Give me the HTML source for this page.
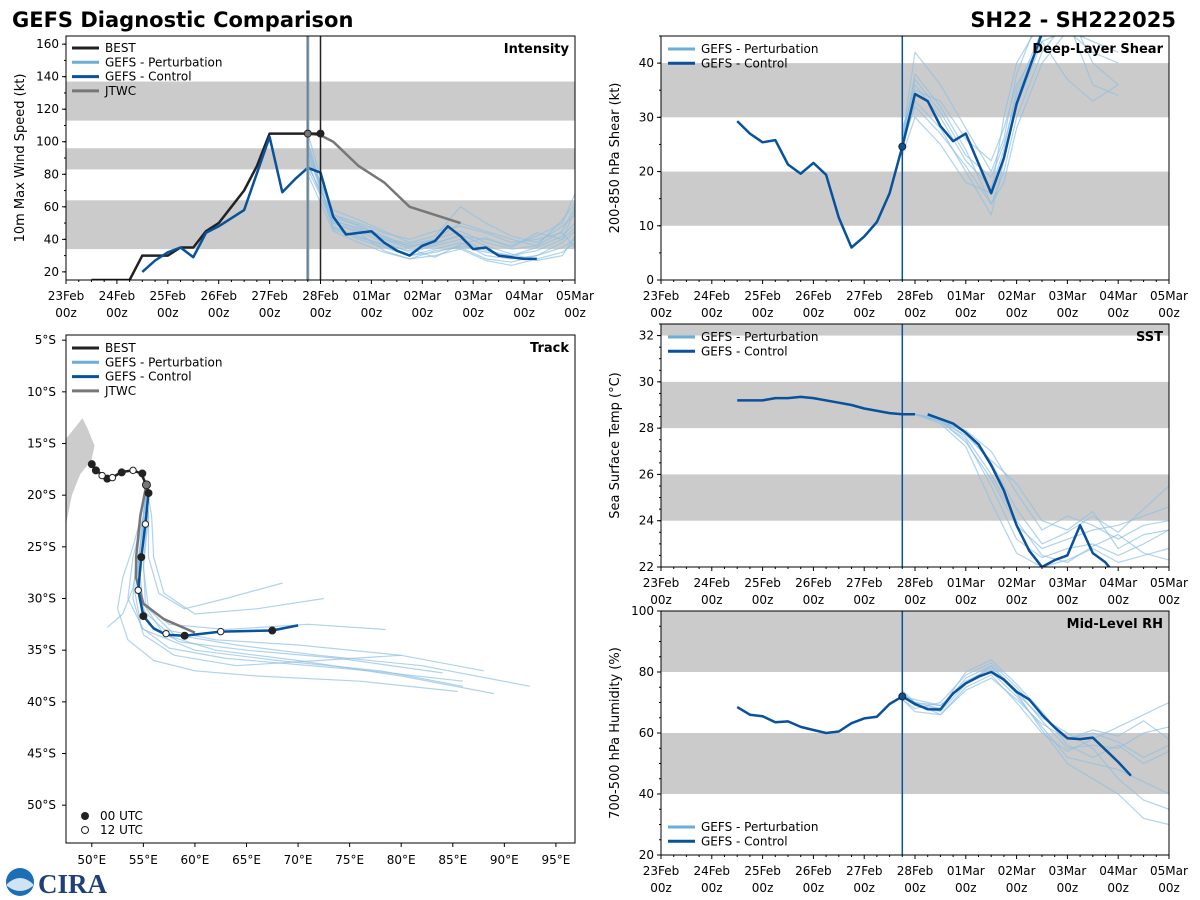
<!DOCTYPE html>
<html><head><meta charset="utf-8"><style>
body{margin:0;background:#fff;}
svg{display:block;font-family:"DejaVu Sans","Liberation Sans",sans-serif;}
</style></head><body>
<svg id="s" width="1200" height="900">
<text x="12" y="27" font-size="21" font-weight="bold">GEFS Diagnostic Comparison</text>
<text x="1176" y="27" font-size="21" font-weight="bold" text-anchor="end">SH22 - SH222025</text>
<g><circle cx="20" cy="882" r="14" fill="#1a6fb5"/><path d="M7,884 Q20,872 33,884 L33,886 Q20,896 7,886Z" fill="#fff" opacity="0.8"/><text x="38" y="893" font-size="27" font-weight="bold" fill="#1f3f7a" font-family="Liberation Serif,serif">CIRA</text></g>
</svg>
<script>
// ---------- DATA ----------
const dateLabels=["23Feb","24Feb","25Feb","26Feb","27Feb","28Feb","01Mar","02Mar","03Mar","04Mar","05Mar"];
const intTicks=[20,40,60,80,100,120,140,160];
const shearTicks=[0,10,20,30,40];
const sstTicks=[22,24,26,28,30,32];
const rhTicks=[20,40,60,80,100];
const latTicks=[5,10,15,20,25,30,35,40,45,50];
const lonTicks=[50,55,60,65,70,75,80,85,90,95];
const bestIntT=[0.5,1.25,1.5,2,2.25,2.5,2.75,3,3.25,3.5,3.75,4,4.5,4.75,5];
const bestIntV=[15,15,30,30,35,35,45,50,60,70,85,105,105,105,105];
const ctlIntT=[1.5,1.75,2,2.25,2.5,2.75,3,3.5,4,4.25,4.5,4.75,5,5.25,5.5,6,6.25,6.5,6.75,7,7.25,7.5,7.75,8,8.25,8.5,9,9.25];
const ctlIntV=[20,27,32,35,29,44,48,58,103,69,77,84,81,54,43,45,38,33,30,36,39,48,42,34,35,30,28,28];
const jtwcIntT=[4.75,5,5.25,5.75,6.25,6.75,7.75];
const jtwcIntV=[105,104,100,85,75,60,50];
const pertIntT=[4.75,5.25,5.75,6.25,6.75,7.25,7.75,8.25,8.75,9.25,9.75,10];
const pertInt1=[95,50,45,38,32,36,40,33,30,35,42,50];
const pertInt2=[85,55,48,42,35,40,45,38,34,36,45,60];
const pertInt3=[100,48,40,35,30,34,38,30,28,30,38,45];
const pertInt4=[90,58,52,45,38,42,60,50,42,38,48,55];
const pertInt5=[80,45,38,32,28,33,35,28,26,30,35,40];
const pertInt6=[105,52,46,40,36,38,42,40,36,42,50,68];
const pertInt7=[88,47,42,36,30,32,36,32,30,33,40,47];
const pertInt8=[95,55,50,44,40,45,48,44,38,40,44,35];
const pertInt9=[92,50,44,33,28,30,34,27,24,28,32,38];
const pertInt10=[86,53,49,41,37,40,50,45,40,36,52,62];
const pertInt11=[98,46,41,37,33,37,43,36,31,27,30,42];
const pertInt12=[83,51,47,40,34,29,37,41,35,44,40,58];
const ctlShearT=[1.5,1.75,2,2.25,2.5,2.75,3,3.25,3.5,3.75,4,4.25,4.5,4.75,5,5.25,5.5,5.75,6,6.25,6.5,6.75,7,7.25,7.5,7.75];
const ctlShearV=[29.3,27,25.4,25.8,21.3,19.6,21.6,19.4,11.5,6,8,10.7,16,24.6,34.3,33,28.4,25.6,27,21.5,16,22.5,32.5,39,45.5,50];
const pertShearT=[4.75,5,5.5,6,6.5,6.75,7,7.5,8,8.5,9];
const pertShear1=[25,38,32,24,14,20,30,42,48,36,34];
const pertShear2=[27,36,30,22,17,24,35,46,50,40,36];
const pertShear3=[24,33,28,20,12,22,32,44,37,33,36];
const pertShear4=[26,42,36,28,20,26,38,50,55,50,48];
const pertShear5=[23,30,25,18,16,30,40,48,52,48,46];
const pertShear6=[28,35,33,26,22,28,36,44,46,42,40];
const pertShear7=[25,32,27,21,14,18,28,40,46,44,42];
const pertShear8=[26,37,31,23,19,25,34,45,52,47,45];
const ctlSstT=[1.5,2,2.25,2.5,2.75,3,3.5,3.75,4,4.5,4.75,5];
const ctlSstV=[29.2,29.2,29.3,29.3,29.35,29.3,29.1,29,28.85,28.65,28.6,28.6];
const ctlSst2T=[5.25,5.5,5.75,6,6.25,6.5,6.75,7,7.25,7.5,7.75,8,8.25,8.5,8.75,9];
const ctlSst2V=[28.6,28.4,28.2,27.8,27.3,26.4,25.3,23.8,22.7,22,22.3,22.5,23.8,22.6,22.2,21.5];
const pertSstT=[5,5.5,6,6.5,7,7.5,8,8.5,9,9.5,10];
const pertSst1=[28.6,28.3,27.5,25.5,23.2,22.4,22.8,23,22.5,23,23.6];
const pertSst2=[28.6,28.4,27.8,26.5,24.5,23,23.5,24.2,23.5,24.5,25.5];
const pertSst3=[28.6,28.2,27.2,24.8,22.6,22,22.3,22.8,22.2,22.5,22.8];
const pertSst4=[28.6,28.4,27.9,27,25.2,23.6,24.2,23.8,23.2,23.8,24];
const pertSst5=[28.6,28.3,27.4,25.8,23.8,22.8,23.2,23.6,23.8,24.2,24.6];
const pertSst6=[28.6,28.4,27.6,26,24,22.5,22.2,22.9,23.4,22.6,22.3];
const pertSst7=[28.6,28.3,27.7,26.6,25.6,24,23.6,24.4,22.8,23.4,23.6];
const ctlRhT=[1.5,1.75,2,2.25,2.5,2.75,3,3.25,3.5,3.75,4,4.25,4.5,4.75,5,5.25,5.5,5.75,6,6.25,6.5,6.75,7,7.25,7.5,7.75,8,8.25,8.5,8.75,9,9.25];
const ctlRhV=[68.5,66,65.5,63.5,63.8,62,61,60,60.5,63.2,64.8,65.3,69.5,72,69.5,67.8,67.7,73,76.3,78.5,80,77.5,73.5,71,66,61.8,58.3,58,58.5,54.5,50.5,46];
const pertRhT=[4.75,5,5.5,6,6.5,7,7.5,8,8.5,9,9.5,10];
const pertRh1=[72,70,68,78,82,74,64,55,56,55,60,62];
const pertRh2=[73,69,67,76,80,72,62,52,50,48,44,40];
const pertRh3=[71,68,70,79,83,75,66,58,60,57,52,56];
const pertRh4=[72,71,69,77,81,73,65,60,55,45,38,35];
const pertRh5=[74,70,66,75,79,70,60,54,58,62,66,70];
const pertRh6=[72,69,68,80,84,76,67,56,52,56,50,54];
const pertRh7=[71,67,66,74,78,71,63,58,61,59,64,58];
const pertRh8=[73,70,69,76,82,73,61,50,45,40,32,30];
const bestTrkLon=[50,50.4,51,51.5,52,52.8,53.3,54,54.8,55.1,55.3];
const bestTrkLat=[17,17.5,18.1,18.4,18.3,17.8,17.7,17.6,17.9,18.6,19];
const bestFilledLon=[50,50.4,51.5,52.9,54.9];
const bestFilledLat=[17,17.6,18.4,17.8,17.9];
const bestOpenLon=[51,52,54];
const bestOpenLat=[18.1,18.3,17.6];
const ctlTrkLon=[55.3,55.5,55.2,54.8,54.5,55,56,57.2,59,62.5,67.5,70];
const ctlTrkLat=[19,19.8,22.8,26,29.2,31.7,32.9,33.5,33.6,33.2,33.1,32.6];
const ctlFilledLon=[55.5,54.8,55,59,67.5];
const ctlFilledLat=[19.8,26,31.7,33.6,33.1];
const ctlOpenLon=[55.2,54.5,57.2,62.5];
const ctlOpenLat=[22.8,29.2,33.4,33.2];
const jtwcTrkLon=[55.3,54.7,54.3,54.3,55,57,60];
const jtwcTrkLat=[19,22,26,28,30.5,32,33.3];
const pertTrk1Lon=[55.3,55,54.5,54.8,57,62,70,80,88];const pertTrk1Lat=[19,22,27,31,33,34,34.5,35.5,37];
const pertTrk2Lon=[55.3,55.5,55,55.5,58,64,72,82,92.5];const pertTrk2Lat=[19,22,27,31,33.5,34.5,35.5,36.5,38.5];
const pertTrk3Lon=[55.3,55,54,53.5,55,60,68,78,86];const pertTrk3Lat=[19,22,26,30,33,35,36,37,38.5];
const pertTrk4Lon=[55.3,55.8,56,57,60,66,72.5];const pertTrk4Lat=[19,22,26,29.5,31.5,31,30];
const pertTrk5Lon=[55.3,55.2,54.5,54,53,51.5];const pertTrk5Lat=[19,22,26,29,31.5,32.8];
const pertTrk6Lon=[55.3,55,54.5,55,57,62,70,80,89];const pertTrk6Lat=[19,22,26.5,30.5,33.5,35,36,37.5,39.2];
const pertTrk7Lon=[55.3,55.5,55.5,56.5,59,63,68.5];const pertTrk7Lat=[19,22,26,29.5,31,30,28.5];
const pertTrk8Lon=[55.3,55,54.3,54,55,58,64,72,80];const pertTrk8Lat=[19,22,26,30,33.5,35.5,36.5,36,35.5];
const pertTrk9Lon=[55.3,55.4,55,55.2,57.5,63,71,78.5];const pertTrk9Lat=[19,22,26.5,30.5,32.5,33,32.5,33];
const pertTrk10Lon=[55.3,54.8,54,53,52.5,53.5,56,60,66,76,85.5];const pertTrk10Lat=[19,22,25,28,31,34,36,37,37.5,38,39];
const pertTrk11Lon=[55.3,55.2,54.8,54.6,55.5,58.5,65,74,84];const pertTrk11Lat=[19,22,26,29.5,32.5,34.2,35,35.8,37.2];
const pertTrk12Lon=[55.3,55.1,54.6,54.2,54.8,57.5,63,70,77,86];const pertTrk12Lat=[19,22,26,29.5,32.8,34.8,35.8,36.4,37,38];
const landLon=[47.5,48.3,49.1,49.6,50.3,50,48.9,48.1,47.5];
const landLat=[14.5,13.5,12.5,13.5,15.2,16.6,18,20,23];

// ---------- DRAWING ----------
const NS='http://www.w3.org/2000/svg';
const svg=document.getElementById('s');
function mk(tag,attrs,parent){const e=document.createElementNS(NS,tag);for(const k in attrs)e.setAttribute(k,attrs[k]);(parent||svg).appendChild(e);return e;}
const C_BEST='#222222',C_PERT='#6baed6',C_CTL='#08519c',C_JTWC='#777777';
function mkPanel(name,x0,x1,y0,y1,vmin,vmax,dmin,dmax){
  const g=mk('g',{});
  
  
  const clipId='clip-'+name;
  const cp=mk('clipPath',{id:clipId},g);mk('rect',{x:x0,y:y0,width:x1-x0,height:y1-y0},cp);
  const P={g,x0,x1,y0,y1,
    sx:t=>x0+(t-dmin)/(dmax-dmin)*(x1-x0),
    sy:v=>y1-(v-vmin)/(vmax-vmin)*(y1-y0)};
  P.plot=mk('g',{'clip-path':'url(#'+clipId+')'},g);
  return P;
}
function band(P,a,b){const r=mk('rect',{x:P.x0,y:P.sy(b),width:P.x1-P.x0,height:P.sy(a)-P.sy(b),fill:'#cbcbcb'},P.plot);}
function line(P,xs,ys,color,w,op,name){
  let d='';for(let i=0;i<xs.length;i++){if(ys[i]==null)continue;d+=(d?'L':'M')+P.sx(xs[i]).toFixed(1)+','+P.sy(ys[i]).toFixed(1);}
  const e=mk('path',{d,fill:'none',stroke:color,'stroke-width':w,'stroke-opacity':op,'stroke-linejoin':'round'},P.plot);
  
  
  return e;
}
function dots(P,xs,ys,fill,r,name){for(let i=0;i<xs.length;i++){const c=mk('circle',{cx:P.sx(xs[i]),cy:P.sy(ys[i]),r,fill,stroke:'#222','stroke-width':1},P.plot);}}
function vline(P,t,color,w){const e=mk('line',{x1:P.sx(t),x2:P.sx(t),y1:P.y0,y2:P.y1,stroke:color,'stroke-width':w},P.plot);}
function frame(P){const r=mk('rect',{x:P.x0,y:P.y0,width:P.x1-P.x0,height:P.y1-P.y0,fill:'none',stroke:'#000','stroke-width':1},P.g);}
function dateAxis(P){
  for(let i=0;i<=40;i++){const x=P.sx(i/4);mk('line',{x1:x,x2:x,y1:P.y1,y2:P.y1+(i%4?2:4),stroke:'#000'},P.g);}
  dateLabels.forEach((l,i)=>{const x=P.sx(i);
    const t=mk('text',{x,y:P.y1+20,'font-size':12,'text-anchor':'middle'},P.g);t.textContent=l;
    const t2=mk('text',{x,y:P.y1+37,'font-size':12,'text-anchor':'middle'},P.g);t2.textContent='00z';});
}
function yAxis(P,ticks,minorStep,vmin,vmax,fmt){
  for(let v=Math.ceil(vmin/minorStep)*minorStep;v<=vmax;v+=minorStep){mk('line',{x1:P.x0-2,x2:P.x0,y1:P.sy(v),y2:P.sy(v),stroke:'#000'},P.g);}
  ticks.forEach(v=>{const y=P.sy(v);mk('line',{x1:P.x0-4,x2:P.x0,y1:y,y2:y,stroke:'#000'},P.g);
    const t=mk('text',{x:P.x0-7,y:y+4,'font-size':12,'text-anchor':'end'},P.g);t.textContent=fmt?fmt(v):v;});
}
function yTitle(P,txt){const cy=(P.y0+P.y1)/2,x=P.x0-42;const t=mk('text',{x,y:cy,'font-size':13,'text-anchor':'middle',transform:'rotate(-90 '+x+' '+cy+')'},P.g);t.textContent=txt;}
function pTitle(P,txt){const t=mk('text',{x:P.x1-6,y:P.y0+17,'font-size':13,'font-weight':'bold','text-anchor':'end'},P.g);t.textContent=txt;}
function legend(P,x,y,items){items.forEach((it,i)=>{const yy=y+i*14.3;
  const l=mk('line',{x1:x,x2:x+27,y1:yy,y2:yy,stroke:it[1],'stroke-width':3},P.g);
  const t=mk('text',{x:x+33,y:yy+4,'font-size':12},P.g);t.textContent=it[0];});}
const pertC='#8fc1e3';

// Intensity
const PI=mkPanel('intensity-panel',66,575,36,280,15,165,0,10);
band(PI,34,64);band(PI,83,96);band(PI,113,137);
[pertInt1,pertInt2,pertInt3,pertInt4,pertInt5,pertInt6,pertInt7,pertInt8,pertInt9,pertInt10,pertInt11,pertInt12].forEach(m=>line(PI,pertIntT,m,pertC,1.2,0.7,'intensity-perturbation'));
line(PI,jtwcIntT,jtwcIntV,C_JTWC,2.5,1,'intensity-jtwc');
line(PI,bestIntT,bestIntV,C_BEST,2.5,1,'intensity-best');
line(PI,ctlIntT,ctlIntV,C_CTL,2.5,1,'intensity-control');
vline(PI,4.75,'#7fa7c4',3);vline(PI,4.75,C_JTWC,1.2);vline(PI,5,'#222',1.5);
dots(PI,[4.75],[105],'#777',3.5,'jtwc-init-dot');
dots(PI,[5],[105],'#222',3.5,'best-latest-dot');
frame(PI);dateAxis(PI);yAxis(PI,intTicks,10,15,165);yTitle(PI,'10m Max Wind Speed (kt)');pTitle(PI,'Intensity');
legend(PI,72,48,[['BEST',C_BEST],['GEFS - Perturbation',C_PERT],['GEFS - Control',C_CTL],['JTWC',C_JTWC]]);

// Shear
const PS=mkPanel('shear-panel',661,1169,36,280,0,45,0,10);
band(PS,10,20);band(PS,30,40);
[pertShear1,pertShear2,pertShear3,pertShear4,pertShear5,pertShear6,pertShear7,pertShear8].forEach(m=>line(PS,pertShearT,m,pertC,1.2,0.7,'shear-perturbation'));
line(PS,ctlShearT,ctlShearV,C_CTL,2.5,1,'shear-control');
vline(PS,4.75,C_CTL,1.5);dots(PS,[4.75],[24.6],C_CTL,3.5,'shear-init-dot');
frame(PS);dateAxis(PS);yAxis(PS,shearTicks,5,0,45);yTitle(PS,'200-850 hPa Shear (kt)');pTitle(PS,'Deep-Layer Shear');
legend(PS,668,49,[['GEFS - Perturbation',C_PERT],['GEFS - Control',C_CTL]]);

// SST
const PT=mkPanel('sst-panel',661,1169,324,567,22,32.5,0,10);
band(PT,24,26);band(PT,28,30);band(PT,32,34);
[pertSst1,pertSst2,pertSst3,pertSst4,pertSst5,pertSst6,pertSst7].forEach(m=>line(PT,pertSstT,m,pertC,1.2,0.7,'sst-perturbation'));
line(PT,ctlSstT,ctlSstV,C_CTL,2.5,1,'sst-control');
line(PT,ctlSst2T,ctlSst2V,C_CTL,2.5,1,'sst-control-forecast');
vline(PT,4.75,C_CTL,1.5);
frame(PT);dateAxis(PT);yAxis(PT,sstTicks,0.5,22,32.5);yTitle(PT,'Sea Surface Temp (°C)');pTitle(PT,'SST');
legend(PT,668,337,[['GEFS - Perturbation',C_PERT],['GEFS - Control',C_CTL]]);

// RH
const PR=mkPanel('rh-panel',661,1169,611,855,20,100,0,10);
band(PR,40,60);band(PR,80,100);
[pertRh1,pertRh2,pertRh3,pertRh4,pertRh5,pertRh6,pertRh7,pertRh8].forEach(m=>line(PR,pertRhT,m,pertC,1.2,0.7,'rh-perturbation'));
line(PR,ctlRhT,ctlRhV,C_CTL,2.5,1,'rh-control');
vline(PR,4.75,C_CTL,1.5);dots(PR,[4.75],[72],C_CTL,3.5,'rh-init-dot');
frame(PR);dateAxis(PR);yAxis(PR,rhTicks,5,20,100);yTitle(PR,'700-500 hPa Humidity (%)');pTitle(PR,'Mid-Level RH');
legend(PR,668,827,[['GEFS - Perturbation',C_PERT],['GEFS - Control',C_CTL]]);

// Track (x=lon, y=-lat)
const PK=mkPanel('track-panel',66,575,335,843,-53.66,-4.5,47.5,96.85);
const kx=PK.sx, ky=v=>PK.sy(-v);
const PKt={plot:PK.plot,sx:kx,sy:ky};
const land=mk('polygon',{points:landLon.map((l,i)=>kx(l)+','+ky(landLat[i])).join(' ')+' '+kx(47)+','+ky(23)+' '+kx(47)+','+ky(14.5),fill:'#cccccc',stroke:'#fff','stroke-width':0.6},PK.plot);

[[pertTrk1Lon,pertTrk1Lat],[pertTrk2Lon,pertTrk2Lat],[pertTrk3Lon,pertTrk3Lat],[pertTrk4Lon,pertTrk4Lat],[pertTrk5Lon,pertTrk5Lat],[pertTrk6Lon,pertTrk6Lat],[pertTrk7Lon,pertTrk7Lat],[pertTrk8Lon,pertTrk8Lat],[pertTrk9Lon,pertTrk9Lat],[pertTrk10Lon,pertTrk10Lat],[pertTrk11Lon,pertTrk11Lat],[pertTrk12Lon,pertTrk12Lat]].forEach(m=>line(PKt,m[0],m[1],pertC,1.2,0.7,'track-perturbation'));
line(PKt,jtwcTrkLon,jtwcTrkLat,C_JTWC,2.5,1,'track-jtwc');
line(PKt,ctlTrkLon,ctlTrkLat,C_CTL,2.5,1,'track-control');
line(PKt,bestTrkLon,bestTrkLat,C_BEST,2.5,1,'track-best');
dots(PKt,bestFilledLon,bestFilledLat,'#222',3.5,'best-00utc-marker');
dots(PKt,bestOpenLon,bestOpenLat,'#fff',3.2,'best-12utc-marker');
dots(PKt,ctlFilledLon,ctlFilledLat,'#222',3.5,'control-00utc-marker');
dots(PKt,ctlOpenLon,ctlOpenLat,'#fff',3.2,'control-12utc-marker');
dots(PKt,[55.3],[19],'#777',4,'track-init-marker');
frame(PK);
lonTicks.forEach(v=>{const x=kx(v);mk('line',{x1:x,x2:x,y1:843,y2:847,stroke:'#000'},PK.g);const t=mk('text',{x,y:864,'font-size':12,'text-anchor':'middle'},PK.g);t.textContent=v+'°E';});
latTicks.forEach(v=>{const y=ky(v);mk('line',{x1:62,x2:66,y1:y,y2:y,stroke:'#000'},PK.g);const t=mk('text',{x:56,y:y+4,'font-size':12,'text-anchor':'end'},PK.g);t.textContent=v+'°S';});
pTitle(PK,'Track');
legend(PK,72,348,[['BEST',C_BEST],['GEFS - Perturbation',C_PERT],['GEFS - Control',C_CTL],['JTWC',C_JTWC]]);
[[816,'#222','00 UTC'],[830,'#fff','12 UTC']].forEach(r=>{const c=mk('circle',{cx:85,cy:r[0],r:3.5,fill:r[1],stroke:'#222'},PK.g);const t=mk('text',{x:100,y:r[0]+4,'font-size':12},PK.g);t.textContent=r[2];});
</script>
</body></html>
